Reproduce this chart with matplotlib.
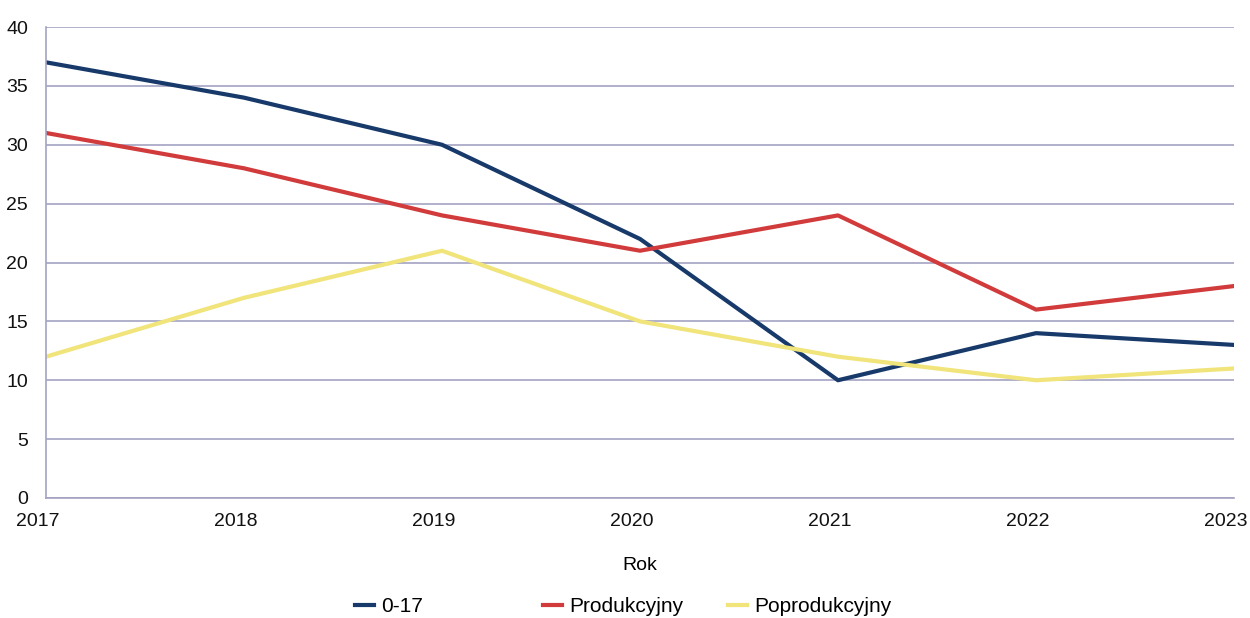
import matplotlib.pyplot as plt
from matplotlib.transforms import ScaledTranslation

years = [2017, 2018, 2019, 2020, 2021, 2022, 2023]
grupa_0_17 = [37, 34, 30, 22, 10, 14, 13]
produkcyjny = [31, 28, 24, 21, 24, 16, 18]
poprodukcyjny = [12, 17, 21, 15, 12, 10, 11]

plt.rcParams['font.family'] = ['Liberation Sans', 'DejaVu Sans']

fig = plt.figure(figsize=(12.5, 6.18), dpi=100)
ax = fig.add_axes([46 / 1250, 1 - 498 / 618, (1234 - 46) / 1250, (498 - 27) / 618])

lines = []
lines += ax.plot(years, grupa_0_17, color='#173a6b', lw=3, label='0-17')
lines += ax.plot(years, produkcyjny, color='#d13b3b', lw=3, label='Produkcyjny')
lines += ax.plot(years, poprodukcyjny, color='#f0e47a', lw=3, label='Poprodukcyjny')

ax.set_xlim(2017, 2023)
ax.set_ylim(0, 40)
ax.set_yticks(range(0, 41, 5))
ax.set_xticks(years)
ax.grid(axis='y', color='#a3a3c2', lw=1.2)
ax.set_axisbelow(True)
for s in ['top', 'right']:
    ax.spines[s].set_visible(False)
for s in ['left', 'bottom']:
    ax.spines[s].set_color('#a3a3c2')
    ax.spines[s].set_linewidth(1.2)
ax.tick_params(length=0, labelsize=14, colors='#111111')
ax.tick_params(axis='y', pad=13)
ax.tick_params(axis='x', pad=11)
shift = ScaledTranslation(-8 / 100, 0, fig.dpi_scale_trans)
for lbl in ax.get_xticklabels():
    lbl.set_transform(lbl.get_transform() + shift)
ax.set_xlabel('Rok', fontsize=14, labelpad=19)

# legend entries sit at fixed slots, like the original
for line, x0 in zip(lines, [355, 543, 728]):
    fig.legend(handles=[line], loc='center left', bbox_to_anchor=(x0 / 1250, 1 - 607 / 618),
               frameon=False, fontsize=15, handlelength=0.9, handletextpad=0.35,
               borderpad=0, borderaxespad=0)

fig.savefig('out.png', dpi=100)
